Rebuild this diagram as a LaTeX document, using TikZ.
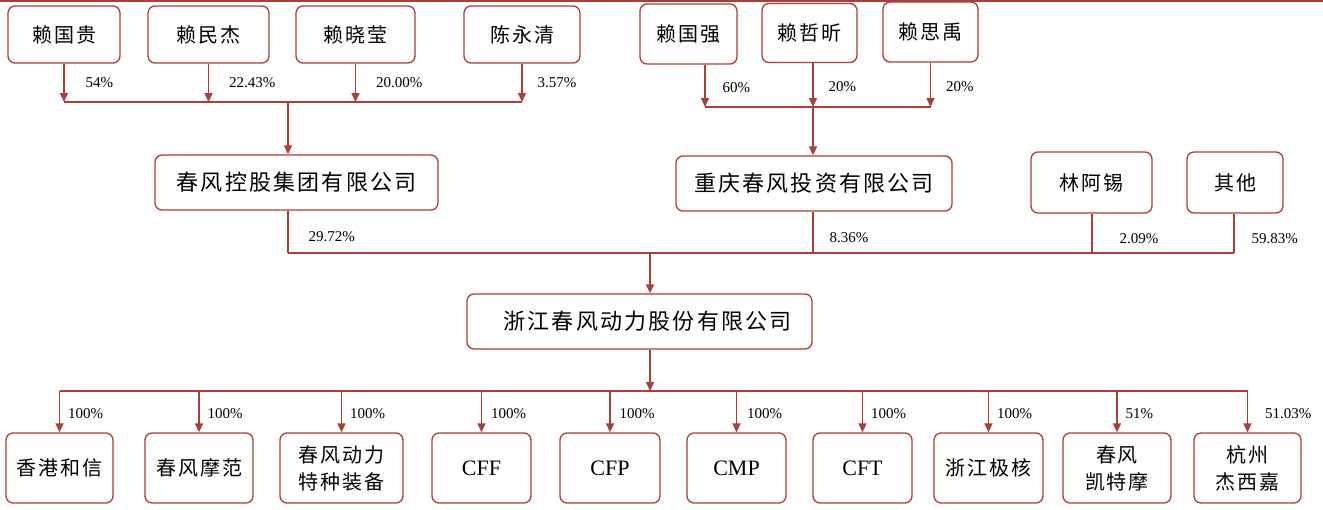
\documentclass[tikz,border=0pt]{standalone}
\usepackage{fontspec}
\setmainfont{Liberation Serif}
\newfontfamily\cjk[LetterSpace=10]{Noto Sans CJK SC}
\usetikzlibrary{arrows.meta}
\definecolor{cfred}{RGB}{172,62,56}
\begin{document}
\begin{tikzpicture}[x=1pt,y=-1pt,
      box/.style={draw=cfred, line width=1.3pt, rounded corners=7pt, align=center,
        inner sep=0pt, font=\cjk\fontsize{20}{27}\selectfont},
      big/.style={box, font=\cjk\fontsize{22}{27}\selectfont},
      latin/.style={box, font=\fontsize{22}{26}\selectfont},
      pct/.style={inner sep=0pt, anchor=west, font=\fontsize{15}{15}\selectfont},
      link/.style={draw=cfred, line width=1.4pt},
      arr/.style={link, -{Triangle[length=9pt,width=8pt]}},]
    \useasboundingbox (0,0) rectangle (1323,509);
    \draw[link, line width=1.6pt] (0,0.8) -- (1323,0.8);
    \node[box, minimum width=112, minimum height=57] (gg) at (64,34.5) {赖国贵};
    \node[box, minimum width=121, minimum height=57] (mj) at (208.5,34.5) {赖民杰};
    \node[box, minimum width=119, minimum height=57] (xy) at (355.5,34.5) {赖晓莹};
    \node[box, minimum width=116, minimum height=57] (yq) at (522,34.5) {陈永清};
    \node[box, minimum width=97, minimum height=60] (gq) at (688.5,34) {赖国强};
    \node[box, minimum width=95, minimum height=59] (zx) at (809.5,33) {赖哲昕};
    \node[box, minimum width=95, minimum height=60] (sy) at (930.5,32) {赖思禹};
    \node[big, minimum width=283, minimum height=55] (kg) at (296.5,182.5) {春风控股集团有限公司};
    \node[big, minimum width=276, minimum height=55] (tz) at (814,183.5) {重庆春风投资有限公司};
    \node[box, minimum width=121, minimum height=61] (lx) at (1091.5,182.5) {林阿锡};
    \node[box, minimum width=96, minimum height=61] (qt) at (1235,182.5) {其他};
    \node[big, minimum width=345, minimum height=55] (cf) at (639.5,321.5) {\hspace{16pt}浙江春风动力股份有限公司};
    \node[box, minimum width=107, minimum height=70] (hx) at (59.5,468) {香港和信};
    \node[box, minimum width=108, minimum height=70] (mf) at (199,468) {春风摩范};
    \node[box, minimum width=123, minimum height=70] (tzzb) at (341.5,468) {春风动力\\特种装备};
    \node[latin, minimum width=99, minimum height=70] (cff) at (481.5,468) {CFF};
    \node[latin, minimum width=100, minimum height=70] (cfp) at (610,468) {CFP};
    \node[latin, minimum width=99, minimum height=70] (cmp) at (736.5,468) {CMP};
    \node[latin, minimum width=99, minimum height=70] (cft) at (862.5,468) {CFT};
    \node[box, minimum width=109, minimum height=70] (jh) at (988.5,468) {浙江极核};
    \node[box, minimum width=108, minimum height=70] (ktm) at (1117,468) {春风\\凯特摩};
    \node[box, minimum width=107, minimum height=70] (jxj) at (1247.5,468) {杭州\\杰西嘉};
    \coordinate (bus1) at (288,102);
    \coordinate (bus2) at (813,107);
    \coordinate (bus3) at (650,253);
    \coordinate (bus4) at (650,391);
    \foreach \n/\d/\p in {gg/21pt/54, mj/20pt/22.43, xy/20pt/20.00, yq/15pt/3.57}
      \draw[arr] (\n.south) -- (\n.south |- bus1) node[pct, midway, xshift=\d] (p\n) {\p\%};
    \draw[link] (gg.south |- bus1) -- (yq.south |- bus1);
    \draw[arr] (bus1) -- (bus1 |- kg.north);
    \foreach \n/\s/\d/\p in {gq/16.5pt/17pt/60, zx/3.5pt/15pt/20, sy/0pt/15pt/20}
      \draw[arr] ([xshift=\s]\n.south) -- ([xshift=\s]\n.south |- bus2) node[pct, midway, xshift=\d, yshift=-2pt] (p\n) {\p\%};
    \draw[link] ([xshift=16.5pt]gq.south |- bus2) -- (sy.south |- bus2);
    \draw[arr] (bus2) -- (bus2 |- tz.north);
    \foreach \n/\s/\d/\p in {kg/-8.5pt/20pt/29.72, tz/-1pt/16pt/8.36, lx/0.5pt/27pt/2.09, qt/-1pt/17pt/59.83}
      \draw[link] ([xshift=\s]\n.south) -- ([xshift=\s]\n.south |- bus3) node[pct, midway, xshift=\d, yshift=-5pt] (p\n) {\p\%};
    \draw[link] ([xshift=-8.5pt]kg.south |- bus3) -- ([xshift=-1pt]qt.south |- bus3);
    \draw[arr] (bus3) -- (bus3 |- cf.north);
    \draw[arr] (bus3 |- cf.south) -- (bus4);
    \draw[link] (hx.north |- bus4) -- (jxj.north |- bus4);
    \foreach \n/\d/\p in {hx/8pt/100, mf/8pt/100, tzzb/8pt/100, cff/9pt/100, cfp/9pt/100,
        cmp/10pt/100, cft/8pt/100, jh/8pt/100, ktm/8pt/51, jxj/17pt/51.03}
      \draw[arr] (\n.north |- bus4) -- (\n.north) node[pct, midway, xshift=\d, yshift=-2pt] (p\n) {\p\%};
\end{tikzpicture}
\end{document}
